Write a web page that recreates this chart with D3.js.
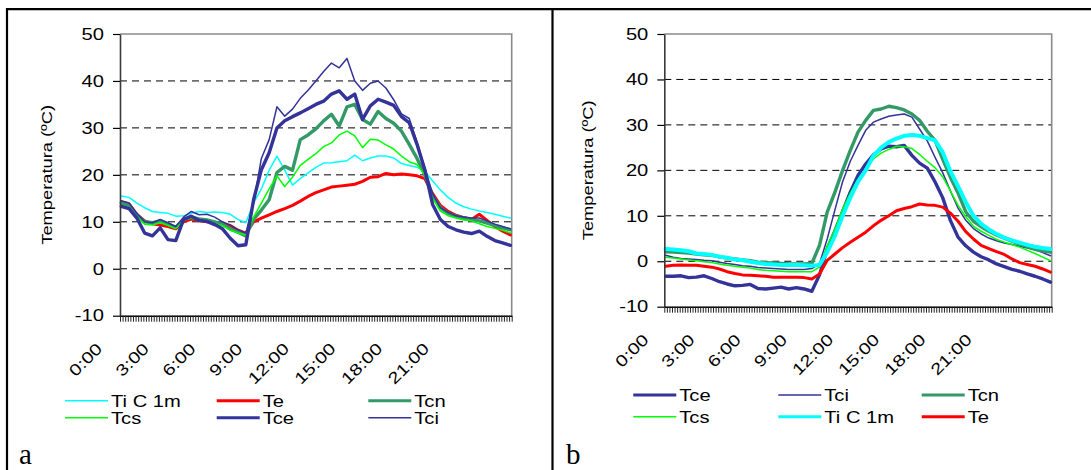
<!DOCTYPE html>
<html><head><meta charset="utf-8">
<script src="https://cdn.jsdelivr.net/npm/d3@7/dist/d3.min.js"></script>
<style>body{margin:0;background:#fff}svg{display:block}</style>
</head><body><svg id="c" width="1091" height="470"></svg>
<script>
// ---------- data ----------
const nCategories = 151;          // 10-minute categories starting at 0:00
const sampleStep = 3;             // values below are read every 30 min (every 3 categories)
const labelEvery = 18;            // one label every 3 hours
const xLabels = ["0:00","3:00","6:00","9:00","12:00","15:00","18:00","21:00"];
const yTicks = [-10,0,10,20,30,40,50];
const gridValues = [0,10,20,30,40];
const yTitle = "Temperatura (ºC)";

// chart a
const aTiC1m = [15.5,15.2,14.0,13.0,12.2,12.0,11.8,11.2,11.3,11.8, 12.2,12.0,12.1,12.0,11.6,10.5,9.8,14.0,17.0,21.0, 24.0,21.0,17.8,19.2,20.4,21.6,22.5,22.6,22.8,23.0, 24.2,23.0,23.6,24.0,24.0,23.6,22.4,22.0,21.6,20.8, 18.7,16.8,15.2,14.0,13.2,12.7,12.3,12.0,11.6,11.2,10.8];
const aTe    = [14.2,13.8,11.6,10.2,9.6,9.3,9.0,8.5,10.0,10.6, 10.2,10.0,9.8,9.6,9.2,8.2,7.6,10.0,10.8,11.5, 12.2,12.8,13.5,14.4,15.4,16.2,16.8,17.4,17.6,17.8, 18.0,18.6,19.5,19.6,20.3,20.0,20.2,20.0,19.8,19.2, 16.0,13.5,12.2,11.4,10.9,10.5,11.6,10.3,9.0,8.0,7.2];
const aTcn   = [14.0,13.5,11.5,10.0,9.8,10.2,9.5,8.8,10.5,11.0, 10.6,10.4,10.0,9.5,8.5,7.8,7.0,10.5,12.5,14.7, 20.5,21.8,21.0,27.5,28.5,29.8,31.5,32.9,30.4,34.5, 35.0,31.8,30.8,33.5,32.0,31.0,29.3,26.5,23.5,20.0, 15.5,13.0,11.8,11.2,10.8,10.5,10.2,9.7,9.2,8.7,8.3];
const aTcs   = [13.5,13.0,11.0,9.5,9.3,9.8,9.2,8.5,10.3,10.8, 10.2,10.0,9.6,9.2,8.2,7.6,7.2,11.0,14.0,17.0, 19.8,17.5,19.5,22.0,23.3,24.5,26.0,26.8,28.5,29.3, 28.3,25.8,27.6,27.4,26.4,25.5,24.0,22.8,22.2,20.0, 15.0,12.3,11.3,10.8,10.4,10.2,9.6,9.0,8.6,8.2,7.6];
const aTce   = [13.3,12.8,10.8,7.6,7.0,8.7,6.2,6.0,10.5,11.2, 10.3,10.1,9.4,8.5,6.5,4.9,5.1,14.7,21.1,24.7, 30.0,31.5,32.4,33.2,34.1,35.0,35.7,37.2,37.9,36.1, 37.2,31.8,34.7,36.1,35.5,34.8,32.4,31.1,26.5,21.1, 13.7,10.5,9.0,8.3,7.8,7.5,8.0,6.9,6.0,5.5,5.0];
const aTci   = [14.5,14.0,11.8,10.0,9.8,10.5,9.8,9.0,11.0,12.2, 11.5,11.6,11.0,10.0,9.3,8.3,7.6,14.0,23.5,27.5, 34.5,32.5,34.0,36.3,38.0,40.0,42.0,43.8,42.8,44.8, 40.0,38.0,39.5,40.0,38.5,36.0,33.0,32.0,27.0,21.5, 16.0,13.0,12.0,11.3,11.0,10.8,10.8,10.2,9.5,9.0,8.5];

// chart b
const bTce   = [-3.3,-3.3,-3.2,-3.6,-3.5,-3.2,-3.8,-4.5,-5.0,-5.4, -5.3,-5.1,-6.0,-6.1,-5.9,-5.7,-6.1,-5.8,-6.1,-6.6, -3.0,2.7,6.7,10.9,15.2,18.9,21.4,23.4,24.7,25.3, 25.2,25.5,23.3,21.6,20.5,17.5,14.0,9.0,5.3,3.4, 2.0,1.0,0.3,-0.6,-1.2,-1.8,-2.2,-2.8,-3.3,-3.9,-4.6];
const bTci   = [1.3,0.9,0.6,0.5,0.4,0.2,0.1,-0.2,-0.5,-0.7, -1.0,-1.1,-1.4,-1.5,-1.6,-1.7,-1.8,-1.8,-1.8,-1.6, -0.5,4.9,11.3,17.5,22.0,25.5,28.8,30.6,31.3,31.9, 32.2,32.4,31.7,29.1,26.5,22.9,19.5,15.5,11.7,9.0, 7.2,6.0,5.1,4.5,4.0,3.7,3.3,2.9,2.5,1.9,1.2];
const bTcn   = [2.1,2.0,1.9,1.8,1.6,1.4,1.3,1.0,0.7,0.5, 0.3,0.1,-0.2,-0.3,-0.4,-0.5,-0.6,-0.6,-0.6,-0.5, 3.5,10.8,15.2,20.0,24.4,28.4,31.0,33.2,33.5,34.1, 33.8,33.3,32.4,31.0,28.6,26.6,22.5,18.5,15.0,10.9, 8.8,7.6,6.6,5.8,5.1,4.4,3.8,3.2,2.6,2.3,2.0];
const bTcs   = [0.9,0.7,0.5,0.3,0.1,-0.1,-0.3,-0.6,-0.9,-1.1, -1.3,-1.5,-1.8,-2.0,-2.1,-2.2,-2.3,-2.3,-2.3,-2.3, -1.3,3.4,7.0,11.5,15.0,18.0,20.3,22.5,23.8,24.6, 25.3,25.2,24.8,23.5,22.0,20.6,18.6,15.5,12.3,9.8, 7.7,6.6,5.7,4.8,4.2,3.7,3.1,2.4,1.7,0.9,0.1];
const bTiC1m = [2.7,2.6,2.4,2.2,1.7,1.6,1.4,1.0,0.8,0.4, 0.2,-0.1,-0.4,-0.6,-0.7,-0.8,-0.8,-0.8,-0.9,-1.0, -0.8,2.0,5.6,10.0,14.0,17.5,20.0,23.2,25.0,26.2, 27.0,27.6,27.8,27.6,27.1,26.6,24.0,19.8,16.5,13.0, 10.0,8.2,7.0,6.0,5.2,4.6,4.1,3.6,3.2,2.9,2.7];
const bTe    = [-1.1,-0.9,-0.8,-0.9,-0.9,-1.1,-1.3,-1.7,-2.3,-2.7, -3.0,-3.1,-3.2,-3.3,-3.5,-3.5,-3.5,-3.5,-3.6,-3.9, -2.8,0.2,1.6,3.0,4.2,5.3,6.4,7.8,9.0,10.0, 11.1,11.6,12.0,12.6,12.4,12.3,11.9,10.6,8.8,6.5, 4.9,3.5,2.8,2.1,1.5,0.5,-0.3,-0.7,-1.1,-1.7,-2.4];

// ---------- styles ----------
const C_NAVY = "#333399", C_SEA = "#339966", C_GREEN = "#00ff00", C_CYAN = "#00ffff", C_RED = "#ff0000";
const THIN = 1.5, THICK = 3.4;

const chartA = {
  x0: 120, x1: 511.7, y0: 34, y1: 315.7,
  yTitleX: 47, labelDx: -18, labelDy: 34,
  legendRows: [400.7, 417.7], legendCols: [65, 216.7, 368.3], legendLen: 43,
  series: [
    {name:"Ti C 1m", values:aTiC1m, color:C_CYAN, width:THIN},
    {name:"Te",      values:aTe,    color:C_RED,  width:3.0},
    {name:"Tcn",     values:aTcn,   color:C_SEA,  width:THICK},
    {name:"Tcs",     values:aTcs,   color:C_GREEN,width:THIN},
    {name:"Tce",     values:aTce,   color:C_NAVY, width:THICK},
    {name:"Tci",     values:aTci,   color:C_NAVY, width:THIN}
  ],
  letter: "a", letterX: 19
};
const chartB = {
  x0: 664.3, x1: 1051.7, y0: 34, y1: 306.7,
  yTitleX: 588, labelDx: -16, labelDy: 34,
  legendRows: [395, 416.7], legendCols: [633.3, 778.3, 921.7], legendLen: 43,
  series: [
    {name:"Tce",     values:bTce,   color:C_NAVY, width:THICK},
    {name:"Tci",     values:bTci,   color:C_NAVY, width:THIN},
    {name:"Tcn",     values:bTcn,   color:C_SEA,  width:THICK},
    {name:"Tcs",     values:bTcs,   color:C_GREEN,width:THIN},
    {name:"Ti C 1m", values:bTiC1m, color:C_CYAN, width:4},
    {name:"Te",      values:bTe,    color:C_RED,  width:3.0}
  ],
  letter: "b", letterX: 566
};

const FONT = '"Liberation Sans", Arial, sans-serif';
const SX = 1.26;
const svg = d3.select("#c");

function addText(g, txt, x, y, o = {}) {
  const t = g.append("text").text(txt)
    .attr("font-family", FONT).attr("font-size", o.size || 16)
    .attr("text-anchor", o.anchor || "start").attr("fill", "#000")
    .attr("transform", `translate(${x},${y})` + (o.rot ? ` rotate(${o.rot})` : "") + ` scale(${o.sx || SX},1)`);
  if (o.dy) t.attr("dy", o.dy);
  return t;
}

function drawChart(cfg) {
  const {x0, x1, y0, y1} = cfg;
  const g = svg.append("g");
  const y = d3.scaleLinear().domain([-10, 50]).range([y1, y0]);
  const xb = d3.scaleBand().domain(d3.range(nCategories)).range([x0, x1]);
  const xe = d3.scaleLinear().domain([0, nCategories]).range([x0, x1]);
  const cx = i => xb(i) + xb.bandwidth() / 2;

  // gridlines
  g.append("g").selectAll("line").data(gridValues).join("line")
    .attr("x1", x0).attr("x2", x1).attr("y1", d => y(d)).attr("y2", d => y(d))
    .attr("stroke", "#000").attr("stroke-width", 1).attr("stroke-dasharray", "7,5");
  // plot border (top / right)
  g.append("path").attr("d", `M${x0},${y0}H${x1}V${y1}`)
    .attr("fill", "none").attr("stroke", "#8a8a8a").attr("stroke-width", 1.6);

  // series
  const line = d3.line().x((d, i) => cx(i * sampleStep)).y(d => y(d));
  cfg.series.forEach(s => {
    g.append("path").attr("d", line(s.values)).attr("fill", "none")
      .attr("stroke", s.color).attr("stroke-width", s.width)
      .attr("stroke-linejoin", "round").attr("stroke-linecap", "round");
  });

  // y axis
  const ya = g.append("g").attr("transform", `translate(${x0},0)`)
    .call(d3.axisLeft(y).tickValues(yTicks).tickSize(7).tickSizeOuter(0).tickFormat(""));
  ya.select(".domain").attr("stroke", "#3a3a3a").attr("stroke-width", 1.6);
  ya.selectAll(".tick line").attr("stroke", "#000").attr("stroke-width", 1.2);
  yTicks.forEach(v => addText(g, String(v), x0 - 16, y(v), {anchor: "end", dy: "0.36em"}));

  // x axis
  const xa = g.append("g").attr("transform", `translate(0,${y1})`)
    .call(d3.axisBottom(xe).tickValues(d3.range(nCategories + 1)).tickSize(6).tickSizeOuter(0).tickFormat(""));
  xa.select(".domain").attr("stroke", "#000").attr("stroke-width", 1.4);
  xa.selectAll(".tick line").attr("stroke", "#222").attr("stroke-width", 1);
  xLabels.forEach((lab, j) => {
    addText(g, lab, cx(j * labelEvery) + cfg.labelDx, y1 + cfg.labelDy, {anchor: "end", rot: -45});
  });

  // y title
  addText(g, yTitle, cfg.yTitleX, (y0 + y1) / 2, {anchor: "middle", rot: -90, size: 15.5, sx: 1.18, dy: "0.35em"});

  // legend (3 columns, row-major)
  cfg.series.forEach((s, i) => {
    const col = i % 3, row = Math.floor(i / 3);
    const lx = cfg.legendCols[col], ly = cfg.legendRows[row];
    g.append("line").attr("x1", lx).attr("x2", lx + cfg.legendLen).attr("y1", ly).attr("y2", ly)
      .attr("stroke", s.color).attr("stroke-width", Math.min(s.width, 3));
    addText(g, s.name, lx + cfg.legendLen + 3, ly + 6);
  });

  // panel letter
  g.append("text").text(cfg.letter).attr("x", cfg.letterX).attr("y", 463.5)
    .attr("font-family", '"Liberation Serif", "Times New Roman", serif').attr("font-size", 29).attr("fill", "#000");
}

// table frame (top rule, left edge and middle divider)
const frame = svg.append("g").attr("stroke", "#000").attr("stroke-width", 2.2).attr("fill", "none");
frame.append("line").attr("x1", 6).attr("x2", 1091).attr("y1", 9.2).attr("y2", 9.2);
frame.append("line").attr("x1", 7).attr("x2", 7).attr("y1", 8).attr("y2", 470);
frame.append("line").attr("x1", 552.5).attr("x2", 552.5).attr("y1", 8).attr("y2", 470);

drawChart(chartA);
drawChart(chartB);
</script></body></html>
